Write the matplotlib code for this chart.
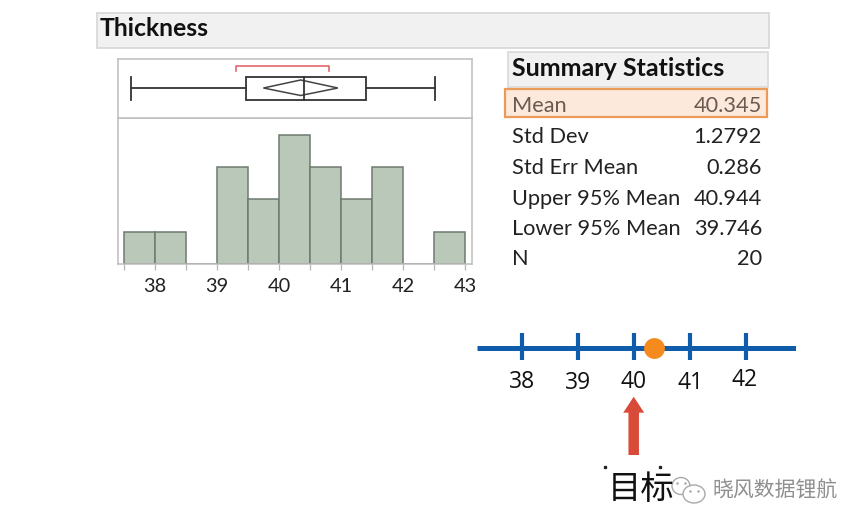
#!/usr/bin/env python3
"""Thickness histogram with JMP style summary table and a target number line."""
import matplotlib

matplotlib.use("Agg")
import matplotlib.pyplot as plt
from matplotlib.patches import Ellipse, FancyArrow, Polygon, Rectangle

W, H = 865, 528

bin_edges = [37.5, 38, 38.5, 39, 39.5, 40, 40.5, 41, 41.5, 42, 42.5, 43]
bin_counts = [1, 1, 0, 3, 2, 4, 3, 2, 3, 0, 1]
hist_ticks = [38, 39, 40, 41, 42, 43]

whisker_low, whisker_high = 37.61, 42.51
box_low, box_high, median = 39.46, 41.4, 40.4
mean_value, ci_low, ci_high = 40.345, 39.746, 40.944
shortest_half = (39.3, 40.8)

stat_names = ["Mean", "Std Dev", "Std Err Mean", "Upper 95% Mean", "Lower 95% Mean", "N"]
stat_values = ["40.345", "1.2792", "0.286", "40.944", "39.746", "20"]

line_ticks = [38, 39, 40, 41, 42]
line_dot = 40.37
target = 40

plt.rcParams["font.family"] = ["Lato", "Noto Sans CJK SC", "DejaVu Sans"]


def px_axes(fig, left, top, right, bottom):
    return fig.add_axes([left / W, 1 - bottom / H, (right - left) / W, (bottom - top) / H])


fig = plt.figure(figsize=(W / 100, H / 100), dpi=100, facecolor="white")

# histogram part
ax = px_axes(fig, 118, 117.5, 471.7, 264)
ax.bar(bin_edges[:-1], bin_counts, width=0.5, align="edge", color="#bac8b9", edgecolor="#6f7a6e", linewidth=1.1, zorder=2)
ax.set_xlim(37.404, 43.1)
ax.set_ylim(0, 4.54)
ax.set_yticks([])
ax.set_xticks(bin_edges, minor=True)
ax.set_xticks(hist_ticks)
ax.tick_params(axis="x", which="both", length=4, width=0.9, color="#b5b5b5", labelsize=14.4, labelcolor="#222222", pad=6)
for s in ax.spines.values():
    s.set_color("#bdbdbd")
    s.set_linewidth(1.1)

# box plot part, same x scale
bx = px_axes(fig, 118, 59, 471.7, 117.5)
bx.set_xlim(37.404, 43.1)
bx.set_ylim(117.5, 59)
bx.set_xticks([])
bx.set_yticks([])
for s in bx.spines.values():
    s.set_color("#bdbdbd")
    s.set_linewidth(1.1)
box_c = "#333333"
bx.plot([whisker_low, box_low], [88, 88], color=box_c, lw=1.3)
bx.plot([box_high, whisker_high], [88, 88], color=box_c, lw=1.3)
bx.plot([whisker_low, whisker_low], [77, 99.5], color=box_c, lw=1.3)
bx.plot([whisker_high, whisker_high], [77, 99.5], color=box_c, lw=1.3)
bx.add_patch(Rectangle((box_low, 76.7), box_high - box_low, 23, fill=False, edgecolor=box_c, lw=1.3))
bx.plot([median, median], [76.7, 99.7], color=box_c, lw=1.3)
bx.add_patch(Polygon([(ci_low, 88), (mean_value, 80), (ci_high, 88), (mean_value, 95.5)], fill=False, edgecolor="#444444", lw=1.1))
bx.plot([shortest_half[0], shortest_half[0], shortest_half[1], shortest_half[1]], [70.5, 65.7, 65.7, 70.5], color="#e0686a", lw=1.2)

# number line, 56 px per unit with 38 at x=521.5
nl = px_axes(fig, 477, 330, 796, 365)
nl.set_xlim(37.205, 42.9)
nl.set_ylim(365, 330)
nl.axis("off")
nl.plot([37.205, 42.9], [348, 348], color="#0f5cab", lw=3.6, solid_capstyle="butt")
for t in line_ticks:
    nl.plot([t, t], [332.5, 359.5], color="#0f5cab", lw=3.0, solid_capstyle="butt")
nl.plot([line_dot], [348], "o", color="#f58a1f", ms=15, mew=0, zorder=3, clip_on=False)

# everything else is placed in picture pixels
ov = fig.add_axes([0, 0, 1, 1], zorder=5)
ov.set_xlim(0, W)
ov.set_ylim(H, 0)
ov.axis("off")
ov.patch.set_alpha(0)

ov.add_patch(Rectangle((97, 13), 672, 35, facecolor="#f1f1f1", edgecolor="#d6d6d6", lw=1.2))
ov.text(100, 29, "Thickness", fontsize=17.8, fontweight="bold", color="#111111", va="center", ha="left")

ov.add_patch(Rectangle((508, 52), 260, 35, facecolor="#f1f1f1", edgecolor="#d9d9d9", lw=1.2))
ov.text(512, 69, "Summary Statistics", fontsize=18, fontweight="bold", color="#111111", va="center", ha="left")
ov.add_patch(Rectangle((505, 89), 262, 28, facecolor="#fde9dc", edgecolor="#ec9a57", lw=1.6))

row_y = [106, 137, 168, 199, 229, 259]
for i, (name, val, y) in enumerate(zip(stat_names, stat_values, row_y)):
    c = "#6b5a50" if i == 0 else "#222222"
    ov.text(512, y, name, fontsize=15.7, color=c, va="center", ha="left")
    ov.text(762, y, val, fontsize=15.7, color=c, va="center", ha="right")

# hand placed labels under the number line, they wobble a bit in the original
label_x = [522, 578, 634, 690, 745]
label_y = [382, 383, 382, 383, 380]
for t, x, y in zip(line_ticks, label_x, label_y):
    ov.text(x, y, str(t), fontsize=16.5, color="#111111", va="center", ha="center", family=["Open Sans", "DejaVu Sans"])

ov.add_patch(FancyArrow(633.7, 455, 0, -58.3, width=10.5, head_width=21, head_length=16, length_includes_head=True, color="#d94a38", lw=0))
ov.text(641, 490, "目标", fontsize=24, color="#111111", va="center", ha="center", family=["Noto Sans CJK SC"])
ov.plot([605, 660], [467, 467], ls="none", marker="s", ms=1.4, color="#222222")

# watermark
for cx, cy, w, h in [(681, 486, 18, 17), (694, 494, 22, 18)]:
    ov.add_patch(Ellipse((cx, cy), w, h, facecolor="white", edgecolor="#a8a8a8", lw=1.0))
for ex, ey in [(677, 483), (685, 483), (690, 491), (698, 491)]:
    ov.plot([ex], [ey], "o", ms=1.8, mew=0, color="#a8a8a8")
ov.text(775, 491, "晓风数据锂航", fontsize=15, color="#8f8f8f", va="center", ha="center", family=["Noto Sans CJK SC"])

fig.savefig("out.png", dpi=100)
plt.close(fig)
